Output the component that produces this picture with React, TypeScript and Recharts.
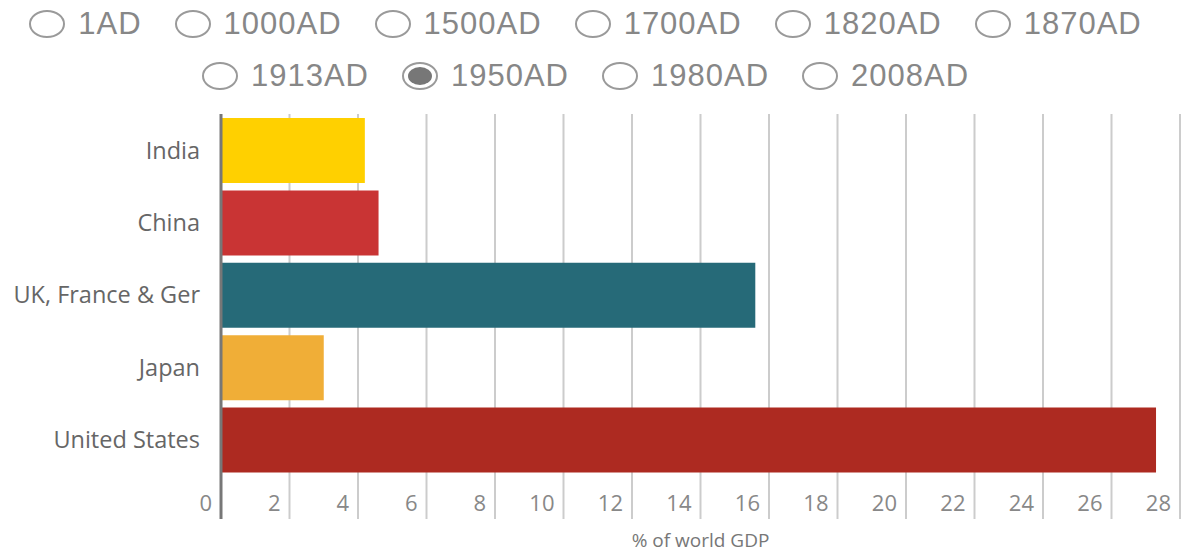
import React from "react";
import { BarChart, Bar, XAxis, YAxis, CartesianGrid, Cell, Label } from "recharts";

// 1950AD snapshot, % of world GDP
const countries = ["India", "China", "UK, France & Ger", "Japan", "United States"];
const gdpShare = [4.2, 4.6, 15.6, 3.0, 27.3];
const barColors = ["#FFD000", "#C93434", "#266A78", "#F0AE37", "#AD2A21"];

const yearsRow1 = ["1AD", "1000AD", "1500AD", "1700AD", "1820AD", "1870AD"];
const yearsRow2 = ["1913AD", "1950AD", "1980AD", "2008AD"];
const selectedYear = "1950AD";

const xTicks = [0, 2, 4, 6, 8, 10, 12, 14, 16, 18, 20, 22, 24, 26, 28];

const data = countries.map((name, i) => ({ name, value: gdpShare[i] }));

const PLOT_BOTTOM = 476;
const TICK_LEN = 43;

function Radio({ label }: { label: string }) {
  const on = label === selectedYear;
  return (
    <div style={{ display: "flex", alignItems: "center", marginRight: 33 }}>
      <div
        style={{
          width: 36,
          height: 28,
          boxSizing: "border-box",
          border: "2px solid #9a9a9a",
          borderRadius: "50%",
          position: "relative",
          marginRight: 13,
        }}
      >
        {on && (
          <div
            style={{
              position: "absolute",
              left: 4,
              top: 3,
              right: 4,
              bottom: 3,
              borderRadius: "50%",
              background: "#777",
            }}
          />
        )}
      </div>
      <span style={{ fontSize: 31, letterSpacing: 1, color: "#878787" }}>{label}</span>
    </div>
  );
}

function XTick(props: any) {
  const { x, payload } = props;
  const isZero = payload.value === 0;
  return (
    <g>
      <line
        x1={x}
        x2={x}
        y1={PLOT_BOTTOM}
        y2={PLOT_BOTTOM + TICK_LEN}
        stroke={isZero ? "#777" : "#cccccc"}
        strokeWidth={isZero ? 3 : 2}
      />
      <text
        x={x - 9}
        y={PLOT_BOTTOM + 35}
        textAnchor="end"
        fill="#888"
        fontSize={22}
        fontFamily="Open Sans"
      >
        {payload.value}
      </text>
    </g>
  );
}

export default function App() {
  const rowStyle: React.CSSProperties = {
    position: "absolute",
    left: 0,
    width: 1204,
    height: 28,
    display: "flex",
    justifyContent: "center",
    alignItems: "center",
    fontFamily: "Liberation Sans, Arial, sans-serif",
  };
  return (
    <div style={{ position: "absolute", left: 0, top: 0, width: 1185, height: 552, background: "#fff" }}>
      <div style={{ ...rowStyle, top: 10 }}>
        {yearsRow1.map((y) => (
          <Radio key={y} label={y} />
        ))}
      </div>
      <div style={{ ...rowStyle, top: 62 }}>
        {yearsRow2.map((y) => (
          <Radio key={y} label={y} />
        ))}
      </div>
      <div style={{ position: "absolute", left: 0, top: 0 }}>
        <BarChart
          width={1185}
          height={552}
          data={data}
          layout="vertical"
          margin={{ top: 114, right: 5, left: 0, bottom: 0 }}
        >
          <CartesianGrid vertical horizontal={false} stroke="#cccccc" strokeWidth={2} />
          <XAxis
            type="number"
            domain={[0, 28]}
            ticks={xTicks}
            interval={0}
            axisLine={false}
            tickLine={false}
            tickSize={0}
            height={76}
            tick={<XTick />}
          >
            <Label
              value="% of world GDP"
              position="insideBottom"
              offset={5}
              fill="#777"
              fontSize={19}
              fontFamily="Open Sans"
            />
          </XAxis>
          <YAxis
            type="category"
            dataKey="name"
            width={221}
            tickLine={false}
            tickSize={0}
            tickMargin={21}
            axisLine={{ stroke: "#777", strokeWidth: 3 }}
            tick={{ fill: "#666", fontSize: 23.5, fontFamily: "Open Sans" }}
          />
          <Bar dataKey="value" barSize={65} isAnimationActive={false}>
            {data.map((d, i) => (
              <Cell key={d.name} fill={barColors[i]} />
            ))}
          </Bar>
        </BarChart>
      </div>
    </div>
  );
}
